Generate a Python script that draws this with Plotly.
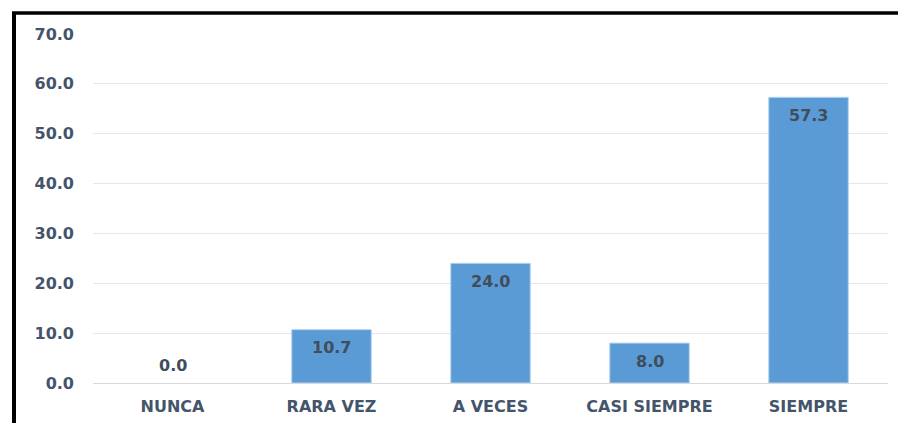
import plotly.graph_objects as go

categories = ["NUNCA", "RARA VEZ", "A VECES", "CASI SIEMPRE", "SIEMPRE"]
values = [0.0, 10.7, 24.0, 8.0, 57.3]
y_ticks = [0, 10, 20, 30, 40, 50, 60, 70]
y_tick_labels = [f"{v:.1f}" for v in y_ticks]

W, H = 906, 423
off = 8  # page body offset
ml, mt = 93 - off, 34 - off
pw, ph = 795, 349
mr, mb = W - ml - pw, H - mt - ph

text_color = "#44546a"
font_family = "DejaVu Sans"

fig = go.Figure()
fig.add_trace(go.Bar(
    x=categories, y=values,
    marker=dict(color="#5b9bd5",
                line=dict(color="#b4d2ee", width=[0 if v == 0 else 1 for v in values])),
    hoverinfo="skip",
))

for c, v in zip(categories, values):
    fig.add_annotation(
        x=c, y=v, text=f"{v:.1f}", showarrow=False,
        yshift=(-18 if v > 0 else 18),
        font=dict(family=font_family, size=16, color="#404d5c", weight="bold"),
    )

# black frame lines (left and top)
lx = 14 - off
ty = 13 - off
fig.add_shape(type="line", xref="paper", yref="paper",
              x0=(lx - ml) / pw, x1=(lx - ml) / pw,
              y0=1 + (mt - ty + 1) / ph, y1=-0.3,
              line=dict(color="black", width=4))
fig.add_shape(type="line", xref="paper", yref="paper",
              x0=(lx - 2 - ml) / pw, x1=1.2,
              y0=1 + (mt - ty) / ph, y1=1 + (mt - ty) / ph,
              line=dict(color="black", width=3.5))

fig.update_layout(
    width=W, height=H,
    margin=dict(l=ml, r=mr, t=mt, b=mb),
    paper_bgcolor="white", plot_bgcolor="white",
    bargap=0.5, showlegend=False,
    xaxis=dict(showgrid=False, showline=False, ticks="", ticklabelstandoff=12,
               tickfont=dict(family=font_family, size=16, color=text_color, weight="bold")),
    yaxis=dict(range=[0, 70], tickvals=y_ticks, ticktext=y_tick_labels,
               showgrid=True, gridcolor="#e6e6ee", gridwidth=1,
               zeroline=True, zerolinecolor="#d9d9d9", zerolinewidth=1,
               showline=False, ticks="", ticklabelstandoff=18,
               tickfont=dict(family=font_family, size=16, color=text_color, weight="bold")),
)

fig.write_html("out.html")
